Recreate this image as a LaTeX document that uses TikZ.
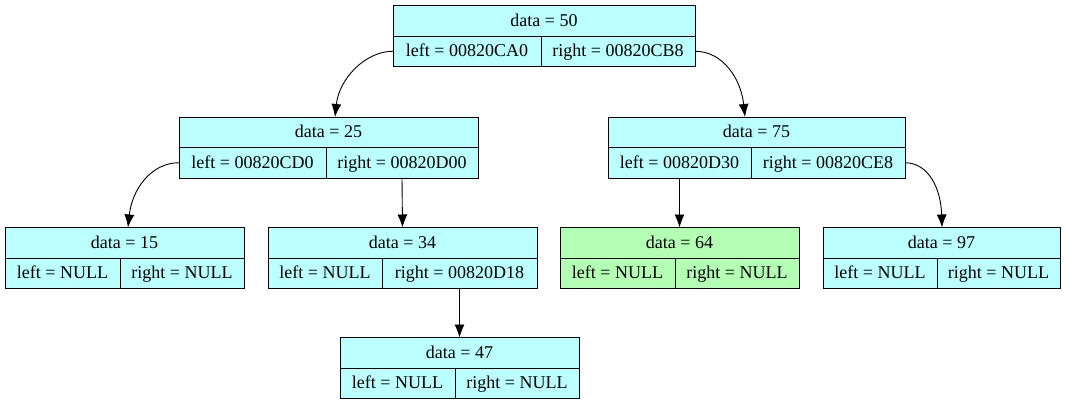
\documentclass[tikz,border=0pt]{standalone}
\usepackage{fontspec}
\setmainfont{Liberation Serif}
\usetikzlibrary{arrows.meta}
\definecolor{cyanfill}{HTML}{BBFFFF}
\definecolor{greenfill}{HTML}{B3FFB3}
\tikzset{
  cell/.style={draw=black, line width=0.9pt, inner sep=0pt, outer sep=0pt,
    minimum height=30.5pt, text height=13.5pt, text depth=2.5pt,
    anchor=north west, font=\fontsize{18}{20}\selectfont},
  edge/.style={draw=black, line width=0.9pt, -{Latex[length=13pt,width=10pt]}}
}
% #1 name, #2 x1, #3 x2, #4 y1, #5 xdiv, #6 data, #7 left, #8 right, #9 fill
\newcommand{\rec}[9]{%
  \node[cell, fill=#9, minimum width={#3pt-#2pt}] (#1) at (#2,#4) {data = #6};
  \node[cell, fill=#9, minimum width={#5pt-#2pt}] (#1L) at (#2,#4+30.5) {left = #7};
  \node[cell, fill=#9, minimum width={#3pt-#5pt}] (#1R) at (#5,#4+30.5) {right = #8};
}
\begin{document}
\begin{tikzpicture}[x=1pt,y=-1pt]
\useasboundingbox (0,0) rectangle (1067,405);
\fill[white] (0,0) rectangle (1067,405);
\rec{n50}{393}{695}{5.5}{541}{50}{00820CA0}{00820CB8}{cyanfill}
\rec{n25}{179}{478}{117}{326}{25}{00820CD0}{00820D00}{cyanfill}
\rec{n75}{608}{905}{117}{751}{75}{00820D30}{00820CE8}{cyanfill}
\rec{n15}{5}{244}{227.5}{120}{15}{NULL}{NULL}{cyanfill}
\rec{n34}{268}{537}{227.5}{382}{34}{NULL}{00820D18}{cyanfill}
\rec{n64}{560}{799}{227.5}{675}{64}{NULL}{NULL}{greenfill}
\rec{n97}{823}{1060}{227.5}{937}{97}{NULL}{NULL}{cyanfill}
\rec{n47}{340}{579}{337.5}{455}{47}{NULL}{NULL}{cyanfill}
% curved edges
\draw[edge] (n50L.west) .. controls +(-28,0) and +(4,-38) .. ([xshift=6.5pt]n25.north);
\draw[edge] (n50R.east) .. controls +(28,0) and +(-4,-38) .. ([xshift=-11.5pt]n75.north);
\draw[edge] (n25L.west) .. controls +(-28,0) and +(4,-38) .. ([xshift=3.5pt]n15.north);
\draw[edge] (n75R.east) .. controls +(24,0) and +(-1,-38) .. ([xshift=0.5pt]n97.north);
% straight edges
\draw[edge] (n25R.south) -- (n34.north);
\draw[edge] (n75L.south) -- (n64.north);
\draw[edge] (n34R.south) -- (n47.north);
\end{tikzpicture}
\end{document}
